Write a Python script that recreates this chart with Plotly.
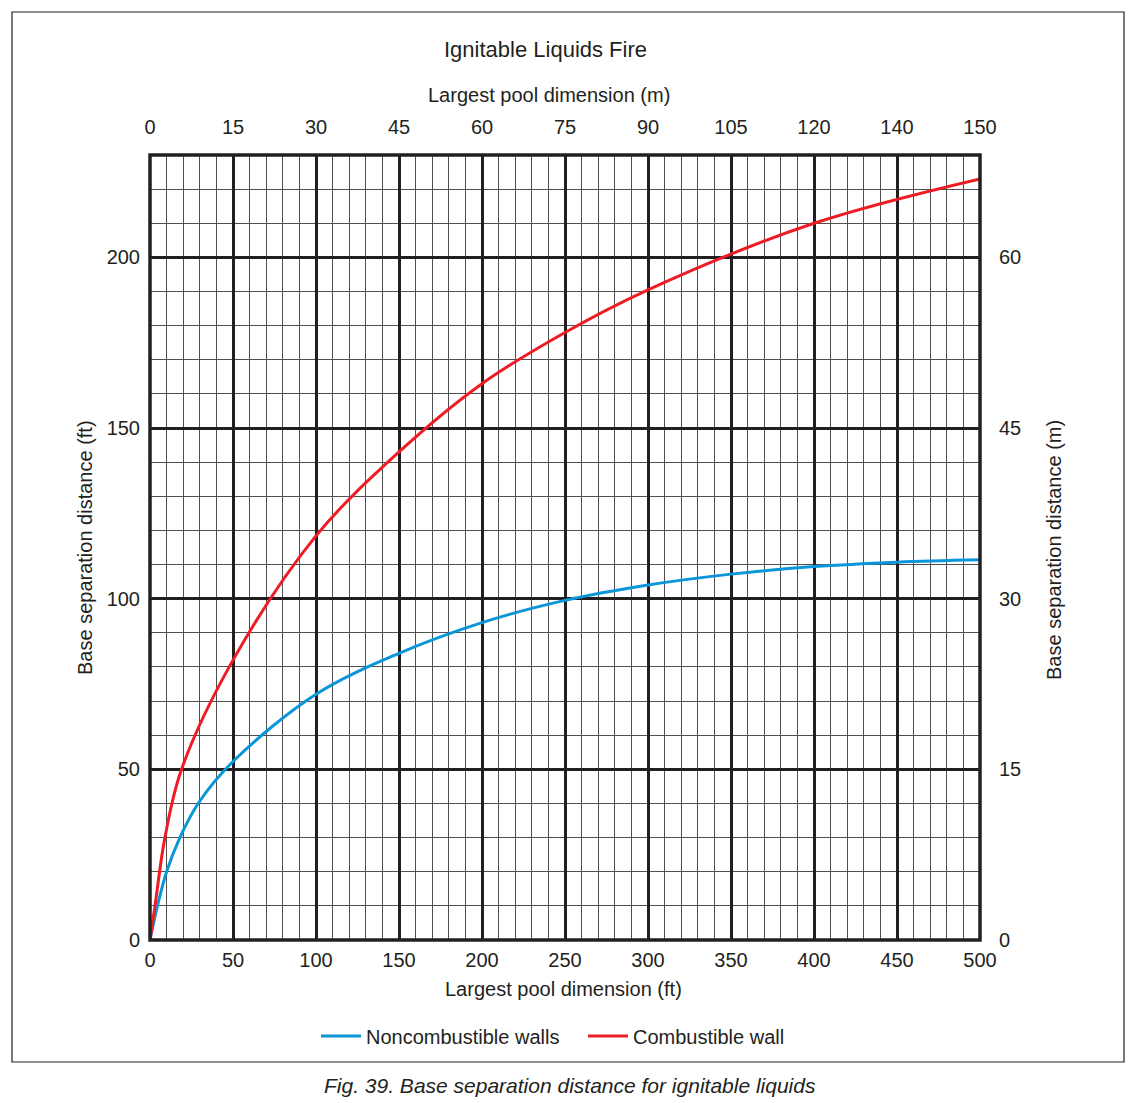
import plotly.graph_objects as go

# ---- data ----
red_x = [0, 3, 9, 19, 50, 100, 150, 200, 250, 300, 400, 500]
red_y = [0, 10, 30, 50, 82, 118.4, 143, 163, 178, 190.5, 210, 223]

blue_x = [0, 4.5, 10, 18, 29, 50, 100, 150, 200, 250, 300, 350, 400, 450, 500]
blue_y = [0, 10, 20, 30, 40, 52.3, 72, 84, 93, 99.5, 104, 107.2, 109.4, 110.7, 111.4]

x_ticks_ft = [0, 50, 100, 150, 200, 250, 300, 350, 400, 450, 500]
x_ticks_m = ["0", "15", "30", "45", "60", "75", "90", "105", "120", "140", "150"]
y_ticks_ft = [0, 50, 100, 150, 200]
y_ticks_m = ["0", "15", "30", "45", "60"]

FONT = "Liberation Sans, Arial, sans-serif"
TXT = "#231f20"
L, R, T, B = 150, 153, 155, 163
W, H = 1133, 1103
PW, PH = W - L - R, H - T - B


def px(xp):
    return (xp - L) / PW


def py(yp):
    return (H - B - yp) / PH


fig = go.Figure()
fig.add_trace(go.Scatter(x=blue_x, y=blue_y, mode="lines", name="Noncombustible walls",
                         line=dict(color="#0a96d8", width=3, shape="spline", smoothing=1.0,
                                   simplify=False)))
fig.add_trace(go.Scatter(x=red_x, y=red_y, mode="lines", name="Combustible wall",
                         line=dict(color="#ee1c25", width=3, shape="spline", smoothing=1.0,
                                   simplify=False)))
# invisible trace to activate secondary axes
fig.add_trace(go.Scatter(x=[0], y=[0], xaxis="x2", yaxis="y2", mode="markers",
                         marker=dict(opacity=0), showlegend=False, hoverinfo="skip"))

tickfont = dict(family=FONT, size=20, color=TXT)
fig.update_layout(
    width=W, height=H,
    margin=dict(l=L, r=R, t=T, b=B),
    paper_bgcolor="white", plot_bgcolor="white",
    showlegend=True,
    legend=dict(orientation="h", x=px(583), xanchor="center", y=py(1036), yanchor="middle",
                font=dict(family=FONT, size=20, color=TXT), itemwidth=40,
                entrywidth=212, entrywidthmode="pixels",
                traceorder="normal"),
    xaxis=dict(range=[0, 500], tickvals=x_ticks_ft, ticks="", tickfont=tickfont,
               showgrid=True, gridcolor="#231f20", gridwidth=2.5,
               minor=dict(dtick=10, showgrid=True, gridcolor="#505050", gridwidth=1.3),
               zeroline=False, showline=False, fixedrange=True, ticklabelstandoff=6),
    yaxis=dict(range=[0, 230], tickvals=y_ticks_ft, ticks="", tickfont=tickfont,
               showgrid=True, gridcolor="#231f20", gridwidth=2.5,
               minor=dict(dtick=10, showgrid=True, gridcolor="#505050", gridwidth=1.3),
               zeroline=False, showline=False, fixedrange=True, ticklabelstandoff=9),
    xaxis2=dict(range=[0, 500], overlaying="x", side="top", tickvals=x_ticks_ft,
                ticktext=x_ticks_m, ticks="", tickfont=tickfont, showgrid=False,
                zeroline=False, showline=False, ticklabelstandoff=16),
    yaxis2=dict(range=[0, 230], overlaying="y", side="right", tickvals=y_ticks_ft,
                ticktext=y_ticks_m, ticks="", tickfont=tickfont, showgrid=False,
                zeroline=False, showline=False, ticklabelstandoff=18),
)

# plot border
fig.add_shape(type="rect", xref="x domain", yref="y domain", x0=0, x1=1, y0=0, y1=1,
              line=dict(color="#231f20", width=3.5), layer="above")
# outer frame
fig.add_shape(type="rect", xref="paper", yref="paper", x0=px(12), x1=px(1124), y0=py(1062), y1=py(12),
              line=dict(color="#231f20", width=1.2))

ann = [
    dict(text="Ignitable Liquids Fire", x=px(545), y=py(49), size=22),
    dict(text="Largest pool dimension (m)", x=px(549), y=py(95), size=20),
    dict(text="Largest pool dimension (ft)", x=px(563), y=py(989), size=20),
    dict(text="<i>Fig. 39. Base separation distance for ignitable liquids</i>", x=px(570), y=py(1085), size=21),
]
for a in ann:
    fig.add_annotation(text=a["text"], x=a["x"], y=a["y"], xref="paper", yref="paper",
                       xanchor="center", yanchor="middle", showarrow=False,
                       font=dict(family=FONT, size=a["size"], color=TXT))
fig.add_annotation(text="Base separation distance (ft)", x=px(85), y=py(548), xref="paper", yref="paper",
                   textangle=-90, showarrow=False, xanchor="center", yanchor="middle",
                   font=dict(family=FONT, size=20, color=TXT))
fig.add_annotation(text="Base separation distance (m)", x=px(1054), y=py(550), xref="paper", yref="paper",
                   textangle=-90, showarrow=False, xanchor="center", yanchor="middle",
                   font=dict(family=FONT, size=20, color=TXT))

fig.write_html("out.html")
